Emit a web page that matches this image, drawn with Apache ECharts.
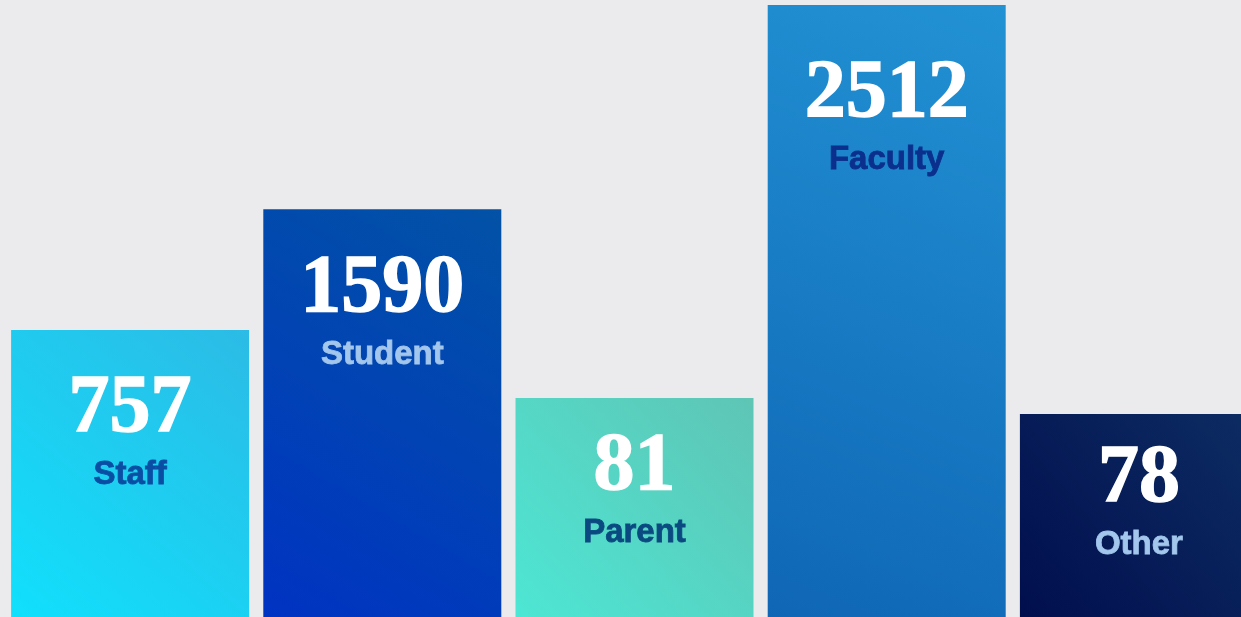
<!DOCTYPE html>
<html>
<head>
<meta charset="utf-8">
<script src="https://cdn.jsdelivr.net/npm/echarts@6/dist/echarts.min.js"></script>
<style>
html,body{margin:0;padding:0;background:#ebebed;overflow:hidden;width:1241px;height:617px;}
#chart{width:1265px;height:617px;}
</style>
</head>
<body>
<div id="chart"></div>
<script>
// Categories and respondent counts (shown as labels)
const categories = ['Staff', 'Student', 'Parent', 'Faculty', 'Other'];
const counts = [757, 1590, 81, 2512, 78];
// Displayed bar heights (percent of chart height, as drawn in the infographic)
const barHeights = [46.5, 66.1, 35.5, 99.2, 32.9];

// Styles (kept separate from data)
const gradientStops = [
  ['#10e0fc', '#2cbbe5'],
  ['#0033c2', '#0252a6'],
  ['#4de6d4', '#5fc5b5'],
  ['#0f66b5', '#2292d4'],
  ['#010e4e', '#0d2d63']
];
const catColors = ['#0a4ea4', '#a2c6ec', '#0a4a80', '#0a2f8c', '#a2c6ec'];
const labelDrops = [47, 48, 37, 57, 33];

const chart = echarts.init(document.getElementById('chart'));
const data = barHeights.map((h, i) => ({
  value: h,
  itemStyle: {
    color: new echarts.graphic.LinearGradient(0, 1, 1, 0, [
      { offset: 0, color: gradientStops[i][0] },
      { offset: 1, color: gradientStops[i][1] }
    ])
  },
  label: {
    offset: [0, labelDrops[i]],
    rich: {
      num: { fontFamily: 'Liberation Serif', fontWeight: 'bold', fontSize: 82, color: '#ffffff', lineHeight: 65, align: 'center', textBorderColor: '#ffffff', textBorderWidth: 1.5 },
      cat: { fontFamily: 'Liberation Sans', fontWeight: 'bold', fontSize: 33, color: catColors[i], lineHeight: 65, align: 'center', textBorderColor: catColors[i], textBorderWidth: 0.8 }
    }
  }
}));

chart.setOption({
  backgroundColor: '#ebebed',
  animation: false,
  grid: { left: 4, top: 0, bottom: 0, right: 0, containLabel: false },
  xAxis: {
    type: 'category',
    data: categories,
    show: false
  },
  yAxis: { type: 'value', min: 0, max: 100, show: false },
  series: [{
    type: 'bar',
    data: data,
    barWidth: 238,
    label: {
      show: true,
      position: 'insideTop',
      distance: 0,
      formatter: p => '{num|' + counts[p.dataIndex] + '}\n{cat|' + categories[p.dataIndex] + '}'
    }
  }]
});
</script>
</body>
</html>
